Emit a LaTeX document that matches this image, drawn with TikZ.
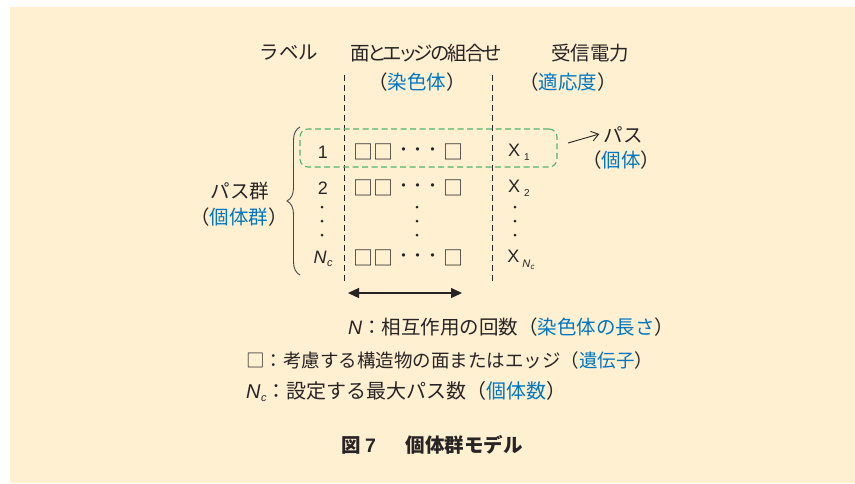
\documentclass[tikz,border=0pt]{standalone}
\usepackage{fontspec}
\setmainfont{Liberation Sans}
\newfontfamily\cjk{Noto Sans CJK JP}
\newfontfamily\cjkp{Noto Sans CJK JP}[RawFeature=+palt,LetterSpace=-10]
\newfontfamily\lat{Liberation Sans}
\usetikzlibrary{arrows.meta,decorations.pathreplacing}
\definecolor{cream}{RGB}{255,240,210}
\definecolor{ink}{RGB}{40,36,37}
\definecolor{cyanb}{RGB}{0,118,192}
\definecolor{grn}{RGB}{80,180,105}
\newcommand{\B}[1]{\textcolor{cyanb}{#1}}
\newcommand{\Nit}{{\lat\itshape N}}
\newcommand{\Nc}{{\lat\itshape N\kern0.5pt\raisebox{-3pt}{\fontsize{11}{11}\selectfont c}}}
\begin{document}
\begin{tikzpicture}[x=1pt,y=-1pt,
  txt/.style={inner sep=0pt,text=ink,font=\cjk\fontsize{19.5}{22}\selectfont},
  txtp/.style={inner sep=0pt,text=ink,font=\cjkp\fontsize{19.5}{22}\selectfont},
  lat/.style={inner sep=0pt,text=ink,font=\lat\fontsize{18}{22}\selectfont},
  sq/.style={inner sep=0pt,text=ink,font=\cjk\fontsize{20}{22}\selectfont},
  dot/.style={inner sep=0pt,text=ink,font=\cjk\fontsize{16}{20}\selectfont},
  vdot/.style={circle,fill=ink,inner sep=0pt,minimum size=3pt},
  sep/.style={draw=ink,dash pattern=on 6pt off 4pt,line width=0.9pt},
  grp/.style={draw=grn,dash pattern=on 6pt off 3.5pt,line width=1.1pt,rounded corners=8pt},
  captxt/.style={inner sep=0pt,text=ink,font=\cjk\bfseries\fontsize{19.5}{22}\selectfont}]
\useasboundingbox (0,0) rectangle (855,483);
\fill[cream] (10,7) rectangle (855,483);

% headers
\node[txt] (hlab) at (289,53) {ラベル};
\node[txtp] (hcomb) at (426,53) {面とエッジの組合せ};
\node[txt] (hchrom) at (417,82) {（\B{染色体}）};
\node[txt] (hpow) at (590,53) {受信電力};
\node[txt] (hfit) at (568,82) {（\B{適応度}）};

% separators
\coordinate (s1t) at (344,75); \coordinate (s1b) at (344,284);
\coordinate (s2t) at (492,75); \coordinate (s2b) at (492,284);
\draw[sep] (s1t) -- (s1b);
\draw[sep] (s2t) -- (s2b);

% green group box
\node[grp,minimum width=257pt,minimum height=38pt,inner sep=0pt] (g1) at (428.5,148) {};

% rows
\node[lat] (n1) at (323,152) {1};
\node[lat] (n2) at (323,188) {2};
\node[lat] (n3) at (323,259) {\Nc};
\foreach \r/\y in {1/152,2/188,3/258}{
  \node[sq] (sa\r) at (373,\y) {□□};
  \node[dot] (dd\r) at (418,\y) {・\hspace{-2pt}・\hspace{-1pt}・};
  \node[sq] (sb\r) at (453,\y) {□};
}
\node[lat] (x1) at (519,152) {X\hspace{4pt}\raisebox{-4pt}{\fontsize{10}{10}\selectfont 1}};
\node[lat] (x2) at (519,188) {X\hspace{4pt}\raisebox{-4pt}{\fontsize{10}{10}\selectfont 2}};
\node[lat] (x3) at (521,260) {X\hspace{3pt}\raisebox{-5pt}{\fontsize{11}{11}\selectfont\itshape N\kern0.3pt\raisebox{-2pt}{\fontsize{8}{8}\selectfont c}}};
\foreach \x/\n in {322/l,417/m,515/r}{
  \foreach \y/\k in {207/a,221/b,235/c}{
    \node[vdot] (v\n\k) at (\x,\y) {};
  }
}

% brace
\coordinate (bb) at (300,275); \coordinate (bt) at (300,127);
\draw[decorate,decoration={brace,amplitude=13pt},draw=ink!85,line width=0.9pt] (bb) -- (bt);
\node[txt] (pg) at (240,191) {パス群};
\node[txt] (pgi) at (239,217) {（\B{個体群}）};

% individual label
\node[txt] (pas) at (623,135) {パス};
\node[txt] (kot) at (621,160) {（\B{個体}）};
\coordinate (pa0) at (568,143);
\draw[draw=ink,line width=0.9pt,-{Straight Barb[length=7pt,width=10pt]}] (pa0) -- ([xshift=-4pt,yshift=1pt]pas.west);

% length arrow
\coordinate (la) at (348,293); \coordinate (lb) at (462,293);
\draw[draw=ink,line width=1.2pt,{Triangle[length=11pt,width=10pt]}-{Triangle[length=11pt,width=10pt]}] (la) -- (lb);

% legend
\node[txt,anchor=west] (lg1) at (348,327) {\Nit：相互作用の回数（\B{染色体の長さ}）};
\node[txt,anchor=west,font=\cjk\fontsize{18.5}{22}\selectfont] (lg2) at (246,360) {□：考慮する構造物の面またはエッジ（\B{遺伝子}）};
\node[txt,anchor=west,font=\cjk\fontsize{20}{22}\selectfont] (lg3) at (246,391) {\Nc：設定する最大パス数（\B{個体数}）};

% caption
\node[captxt] (capt) at (432,445) {図 {\lat\bfseries 7}\hspace{30pt}個体群モデル};
\end{tikzpicture}
\end{document}
